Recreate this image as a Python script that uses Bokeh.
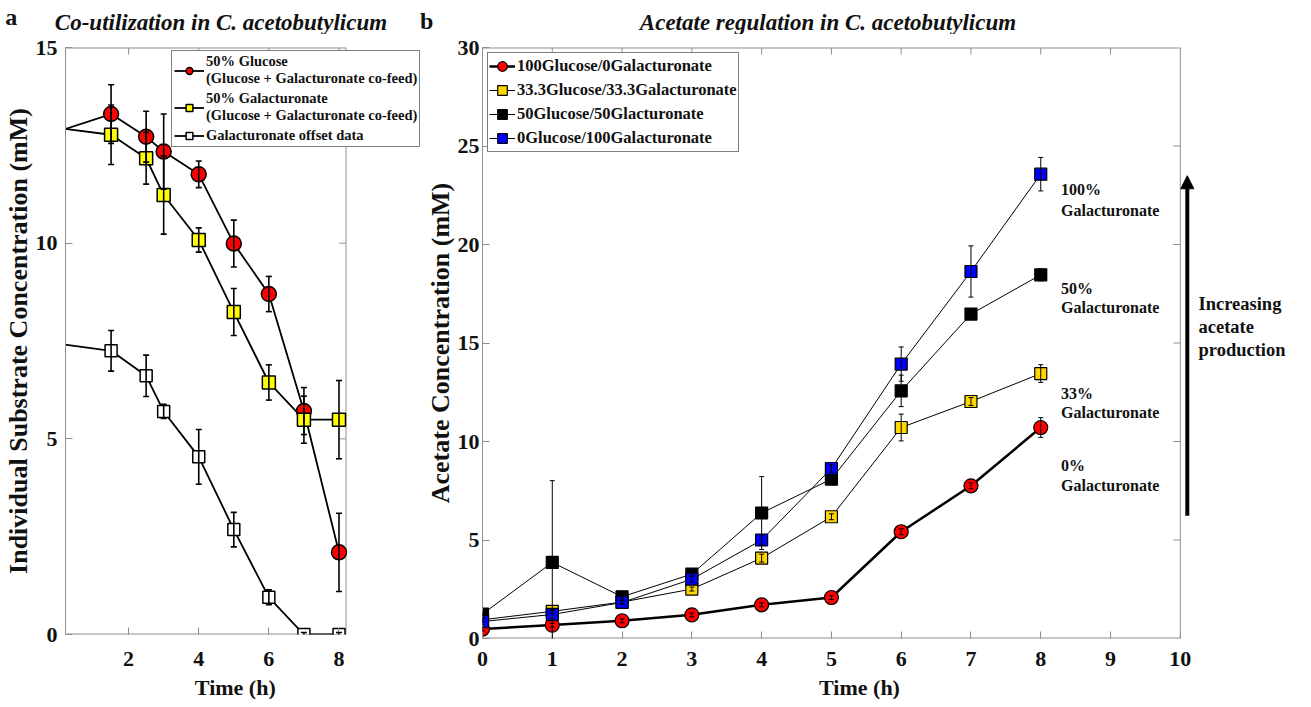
from bokeh.plotting import figure
from bokeh.models import (ColumnDataSource, Whisker, TeeHead, Legend, LegendItem,
                          FixedTicker, Range1d, Label, Arrow, NormalHead)
from bokeh.layouts import row, column
from bokeh.embed import file_html
from bokeh.resources import INLINE

FONT = "Liberation Serif"
FRAME = "#8f8f8f"
INK = "#111111"

# ---------------- panel a data ----------------
time_a = [0, 1.5, 2.5, 3, 4, 5, 6, 7, 8]
glucose_a = [12.86, 13.30, 12.72, 12.34, 11.76, 9.99, 8.70, 5.71, 2.10]
glucose_a_err = [0.30, 0.75, 0.65, 0.96, 0.34, 0.60, 0.45, 0.60, 1.00]
galact_a = [12.94, 12.77, 12.17, 11.23, 10.08, 8.24, 6.44, 5.49, 5.49]
galact_a_err = [0.30, 0.76, 0.66, 1.00, 0.31, 0.60, 0.45, 0.60, 1.00]
offset_a = [7.43, 7.25, 6.61, 5.70, 4.54, 2.68, 0.95, 0.0, 0.0]
offset_a_err = [0.30, 0.52, 0.53, 0.18, 0.70, 0.44, 0.19, 0.05, 0.05]
labels_a = ["50% Glucose\n(Glucose + Galacturonate co-feed)",
            "50% Galacturonate\n(Glucose + Galacturonate co-feed)",
            "Galacturonate offset data"]
title_a = "Co-utilization in C. acetobutylicum"
xlabel_a = "Time (h)"
ylabel_a = "Individual Substrate Concentration (mM)"
xticks_a = [2, 4, 6, 8]
yticks_a = [0, 5, 10, 15]
box_x_a = (0.2, 8.2)
box_y_a = (0, 15)

# ---------------- panel b data ----------------
time_b = [0, 1, 2, 3, 4, 5, 6, 7, 8]
ace_0 = [0.48, 0.68, 0.90, 1.20, 1.71, 2.08, 5.42, 7.75, 10.71]
ace_0_err = [0.10, 0.10, 0.10, 0.10, 0.10, 0.10, 0.15, 0.15, 0.50]
ace_33 = [0.95, 1.38, 1.85, 2.51, 4.08, 6.18, 10.71, 12.03, 13.45]
ace_33_err = [0.10, 0.10, 0.10, 0.10, 0.20, 0.15, 0.68, 0.20, 0.45]
ace_50 = [1.24, 3.86, 2.12, 3.27, 6.37, 8.09, 12.57, 16.47, 18.46]
ace_50_err = [0.10, 4.15, 0.10, 0.10, 1.85, 0.20, 0.80, 0.15, 0.30]
ace_100 = [0.86, 1.22, 1.83, 3.01, 5.00, 8.63, 13.93, 18.63, 23.57]
ace_100_err = [0.15, 0.20, 0.10, 0.15, 0.25, 0.20, 0.87, 1.30, 0.85]
labels_b = ["100Glucose/0Galacturonate", "33.3Glucose/33.3Galacturonate",
            "50Glucose/50Glacturonate", "0Glucose/100Galacturonate"]
title_b = "Acetate regulation in C. acetobutylicum"
xlabel_b = "Time (h)"
ylabel_b = "Acetate Concentration (mM)"
# annotation text lines with their vertical centre (acetate, mM)
anno_b = [("100%", 22.81), ("Galacturonate", 21.75),
          ("50%", 17.77), ("Galacturonate", 16.79),
          ("33%", 12.44), ("Galacturonate", 11.48),
          ("0%", 8.80), ("Galacturonate", 7.79)]
anno_x_b = 8.29
arrow_text_b = [("Increasing", 17.0), ("acetate", 15.79), ("production", 14.63)]
arrow_text_x_b = 10.26
arrow_x_b = 10.10
arrow_span_b = (6.23, 23.49)
xticks_b = list(range(0, 11))
yticks_b = [0, 5, 10, 15, 20, 25, 30]
box_x_b = (0, 10)
box_y_b = (0, 30)

# ---------------- layout constants (pixels) ----------------
HEAD_H = 34
TOP_B = 13
W_A, FH_A, BL_A, BB_A, FOOT_A = 422, 587, 58, 42, 23
W_B, FH_B, BL_B, BB_B, FOOT_B = 868, 591, 54, 38, 23
PX_A = 35.75       # pixels per hour, panel a
PX_B = 70.3        # pixels per hour, panel b
TICK = 7


def strip(width, height):
    s = figure(width=width, height=height, x_range=Range1d(0, width),
               y_range=Range1d(0, height), x_axis_type=None, y_axis_type=None,
               title=None, output_backend="svg", toolbar_location=None, min_border=0)
    s.outline_line_color = None
    s.xgrid.visible = False
    s.ygrid.visible = False
    s.background_fill_color = "white"
    s.border_fill_color = "white"
    return s


def text(p, x, y, t, size, style="bold", align="left"):
    p.add_layout(Label(x=x, y=y, text=t, text_font=FONT, text_font_style=style,
                       text_font_size=size, text_align=align,
                       text_baseline="middle", text_color=INK))


def make_panel(width, fh, bl, bb, box_x, box_y, px_per_x):
    fw = width - bl
    x_end = box_x[0] + fw / px_per_x
    p = figure(width=width, height=TOP_B + fh + bb, title=None,
               x_range=Range1d(box_x[0], x_end), y_range=Range1d(*box_y),
               output_backend="svg", toolbar_location=None,
               min_border_left=bl, min_border_right=0, min_border_top=TOP_B,
               min_border_bottom=bb)
    p.background_fill_color = "white"
    p.border_fill_color = "white"
    p.outline_line_color = None
    p.xgrid.visible = False
    p.ygrid.visible = False
    return p


def style_axes(p, xticks, yticks, xstand, ystand, ylabel, ylabel_size):
    p.xaxis.ticker = FixedTicker(ticks=xticks)
    p.yaxis.ticker = FixedTicker(ticks=yticks)
    for ax in (p.xaxis[0], p.yaxis[0]):
        ax.axis_line_color = FRAME
        ax.major_tick_line_color = FRAME
        ax.major_tick_in = TICK
        ax.major_tick_out = 0
        ax.minor_tick_line_color = None
        ax.major_label_text_font = FONT
        ax.major_label_text_font_style = "bold"
        ax.major_label_text_font_size = "22px"
        ax.major_label_text_color = INK
        ax.axis_label_text_font = FONT
        ax.axis_label_text_font_style = "bold"
        ax.axis_label_text_color = INK
    p.xaxis[0].axis_line_color = None
    p.xaxis[0].major_label_standoff = xstand
    p.yaxis[0].major_label_standoff = ystand
    p.yaxis[0].axis_label = ylabel
    p.yaxis[0].axis_label_text_font_size = ylabel_size
    p.yaxis[0].axis_label_standoff = 0


def draw_box(p, box_x, box_y, xticks, yticks, px_x, px_y):
    x0, x1 = box_x
    y0, y1 = box_y
    p.segment(x0=[x0, x0], y0=[y0, y1], x1=[x1, x1], y1=[y0, y1],
              line_color=FRAME, line_width=2)
    p.segment(x0=[x1], y0=[y0], x1=[x1], y1=[y1], line_color=FRAME, line_width=1)
    tx = [t for t in xticks if x0 < t < x1]
    p.segment(x0=tx, y0=[y1] * len(tx), x1=tx, y1=[y1 - TICK / px_y] * len(tx),
              line_color=FRAME, line_width=1)
    ty = [t for t in yticks if y0 < t < y1]
    p.segment(x0=[x1] * len(ty), y0=ty, x1=[x1 - TICK / px_x] * len(ty), y1=ty,
              line_color=FRAME, line_width=1)


def errorbars(p, xs, ys, es, x_min, width, cap):
    keep = [i for i in range(len(xs)) if xs[i] >= x_min]
    src = ColumnDataSource(dict(
        x=[xs[i] for i in keep],
        lower=[ys[i] - es[i] for i in keep],
        upper=[ys[i] + es[i] for i in keep]))
    w = Whisker(source=src, base="x", lower="lower", upper="upper", dimension="height",
                line_color="black", line_width=width, level="overlay",
                upper_head=TeeHead(size=cap, line_color="black", line_width=width),
                lower_head=TeeHead(size=cap, line_color="black", line_width=width))
    p.add_layout(w)


def legend_with_markers(p, items, loc, pad, spacing, glyph_w, label_h, line_pitch,
                        n_lines, box_x, box_y, px_x, px_y, markers, font_size):
    heights = [max(label_h, line_pitch * n) for n in n_lines]
    total = sum(heights) + spacing * (len(heights) - 1) + 2 * pad
    leg = Legend(items=items, location=loc, orientation="vertical",
                 border_line_color="black", border_line_width=1,
                 background_fill_color="white", background_fill_alpha=1.0,
                 label_text_font=FONT, label_text_font_style="bold",
                 label_text_font_size=font_size, label_text_color=INK,
                 padding=pad, spacing=spacing, margin=0, glyph_width=glyph_w,
                 glyph_height=label_h, label_standoff=2, label_height=label_h)
    p.add_layout(leg)
    # full-size legend markers drawn over the legend's glyph area
    cx = box_x[0] + (loc[0] + pad + glyph_w / 2) / px_x
    top = loc[1] + total
    acc = pad
    for h, (mk, col, sz) in zip(heights, markers):
        cy = box_y[0] + (top - acc - h / 2) / px_y
        acc += h + spacing
        p.scatter([cx], [cy], marker=mk, size=sz, fill_color=col, line_color="black",
                  line_width=1.3, level="overlay")


# ================= header strip (panel letters and titles) =================
head = strip(W_A + W_B, HEAD_H)
text(head, 10.7, 17.2, "a", "24px", align="center")
text(head, 220.5, 12.5, title_a, "23px", style="bold italic", align="center")
text(head, 426.2, 13.9, "b", "24px", align="center")
text(head, 827.5, 12.5, title_b, "23px", style="bold italic", align="center")

# ================= panel a =================
p1 = make_panel(W_A, FH_A, BL_A, BB_A, box_x_a, box_y_a, PX_A)
style_axes(p1, xticks_a, yticks_a, 17, 8, ylabel_a, "26px")
px_y_a = FH_A / (box_y_a[1] - box_y_a[0])
draw_box(p1, box_x_a, box_y_a, xticks_a, yticks_a, PX_A, px_y_a)

series_a = [
    (glucose_a, glucose_a_err, "circle", "#ff0000", 15),
    (galact_a, galact_a_err, "square", "#ffff00", 13),
    (offset_a, offset_a_err, "square", "white", 12),
]
items_a = []
for (ys, es, mk, col, sz), lab in zip(series_a, labels_a):
    ln = p1.line(time_a, ys, line_color="black", line_width=1.8)
    vis = [i for i in range(len(time_a)) if time_a[i] >= box_x_a[0]]
    sc = p1.scatter([time_a[i] for i in vis], [ys[i] for i in vis], marker=mk, size=sz,
                    fill_color=col, line_color="black", line_width=1.5)
    errorbars(p1, time_a, ys, es, box_x_a[0], 1.6, 6)
    items_a.append(LegendItem(label=lab, renderers=[ln, sc]))

legend_with_markers(p1, items_a, (106, 487), 2, 3, 30, 17, 17,
                    [lab.count("\n") + 1 for lab in labels_a],
                    box_x_a, box_y_a, PX_A, px_y_a,
                    [(s[2], s[3], s[4]) for s in series_a], "14.5px")

foot_a = strip(W_A, FOOT_A)
text(foot_a, 200.7, 12, xlabel_a, "22px", align="center")

# ================= panel b =================
p2 = make_panel(W_B, FH_B, BL_B, BB_B, box_x_b, box_y_b, PX_B)
style_axes(p2, xticks_b, yticks_b, 13, 3, ylabel_b, "26px")
px_y_b = FH_B / (box_y_b[1] - box_y_b[0])
draw_box(p2, box_x_b, box_y_b, xticks_b, yticks_b, PX_B, px_y_b)

series_b = [
    (ace_0, ace_0_err, "circle", "#ff0000", 14, 2.5),
    (ace_33, ace_33_err, "square", "#ffd700", 12, 1.0),
    (ace_50, ace_50_err, "square", "black", 12, 1.0),
    (ace_100, ace_100_err, "square", "#0000ff", 12, 1.0),
]
items_b = []
for (ys, es, mk, col, sz, lw), lab in zip(series_b, labels_b):
    ln = p2.line(time_b, ys, line_color="black", line_width=lw)
    sc = p2.scatter(time_b, ys, marker=mk, size=sz, fill_color=col,
                    line_color="black", line_width=1.2)
    errorbars(p2, time_b, ys, es, box_x_b[0], 1.0, 5)
    items_b.append(LegendItem(label=lab, renderers=[ln, sc]))

legend_with_markers(p2, items_b, (5, 486), 1, 0, 26, 24, 24, [1, 1, 1, 1],
                    box_x_b, box_y_b, PX_B, px_y_b,
                    [(s[2], s[3], s[4]) for s in series_b], "16.5px")

for t, yc in anno_b:
    text(p2, anno_x_b, yc, t, "16px")
for t, yc in arrow_text_b:
    text(p2, arrow_text_x_b, yc, t, "18.5px")

p2.add_layout(Arrow(x_start=arrow_x_b, y_start=arrow_span_b[0], x_end=arrow_x_b,
                    y_end=arrow_span_b[1], line_color="black", line_width=4,
                    end=NormalHead(size=13, fill_color="black", line_color="black")))

foot_b = strip(W_B, FOOT_B)
text(foot_b, 405, 12, xlabel_b, "22px", align="center")

layout = column(head, row(column(p1, foot_a), column(p2, foot_b)))
open("out.html", "w").write(file_html(layout, INLINE))
